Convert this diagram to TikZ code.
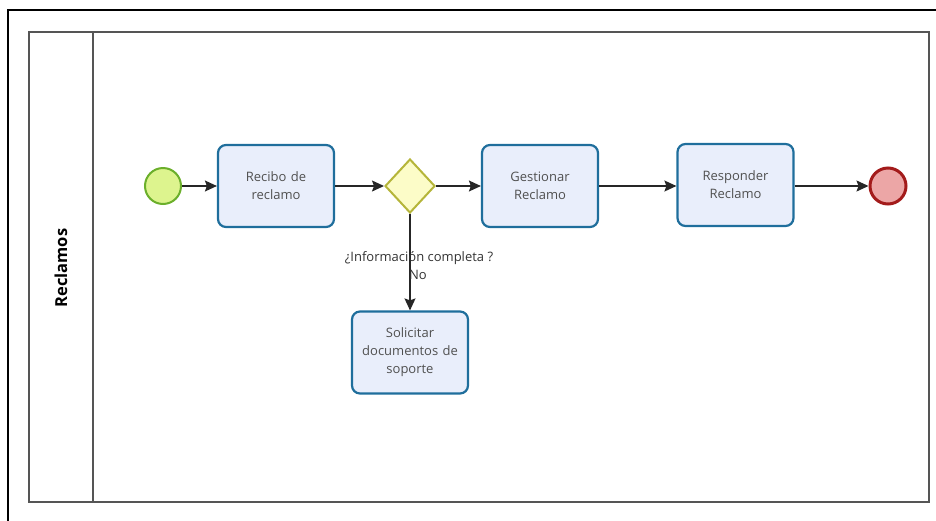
\documentclass[tikz,border=0pt]{standalone}
\usepackage{fontspec}
\setmainfont{Open Sans}
\usetikzlibrary{arrows.meta,shapes.geometric}

\definecolor{taskline}{HTML}{1F6E9C}
\definecolor{taskfill}{HTML}{E9EEFB}
\definecolor{gateline}{HTML}{B5B53A}
\definecolor{gatefill}{HTML}{FCFCC8}
\definecolor{startline}{HTML}{6BAF2B}
\definecolor{startfill}{HTML}{DDF48E}
\definecolor{endline}{HTML}{A31B1B}
\definecolor{endfill}{HTML}{ECA6A6}
\definecolor{flowline}{HTML}{262626}
\definecolor{tasktext}{HTML}{505050}
\definecolor{poolline}{HTML}{555555}

\tikzset{
  taskbox/.style={draw=taskline, fill=taskfill, line width=2.2pt, rounded corners=8pt,
    minimum width=116pt, minimum height=82pt, text width=104pt, align=center,
    inner sep=0pt, text=tasktext, font=\fontsize{13}{18}\selectfont},
  gateway/.style={diamond, draw=gateline, fill=gatefill, line width=2pt,
    minimum width=50pt, minimum height=54pt, inner sep=0pt},
  startevent/.style={circle, draw=startline, fill=startfill, line width=2pt,
    minimum size=36pt, inner sep=0pt},
  endevent/.style={circle, draw=endline, fill=endfill, line width=3pt,
    minimum size=36pt, inner sep=0pt},
  flow/.style={draw=flowline, line width=1.3pt,
    -{Stealth[length=12pt, width=11pt, inset=2pt]}},
  flowlabel/.style={text=black!80, font=\fontsize{13}{16}\selectfont, inner sep=0pt}
}

\begin{document}
\begin{tikzpicture}[x=1pt, y=-1pt]
  \useasboundingbox (0,0) rectangle (936,520);

  % outer frame (runs off the right and bottom edges)
  \draw[black, line width=2pt] (8,530) -- (8,10) -- (946,10);

  % pool and lane header
  \draw[poolline, line width=1.5pt] (29,32) rectangle (929,502);
  \draw[poolline, line width=1.5pt] (93,32) -- (93,502);
  \node[rotate=90, font=\bfseries\fontsize{16.5}{18}\selectfont] (lane) at (61,268) {Reclamos};

  % events, tasks and gateway
  \node[startevent] (start) at (163,186) {};
  \node[taskbox] (recibo) at (276,186) {Recibo de\\reclamo};
  \node[gateway] (gw) at (410,186) {};
  \node[taskbox] (gestionar) at (540,186) {Gestionar\\Reclamo};
  \node[taskbox] (responder) at (735.5,185) {Responder\\Reclamo};
  \node[endevent] (end) at (888,186) {};
  \node[taskbox] (solicitar) at (410,352.5) {Solicitar\\documentos de\\soporte};

  % sequence flows
  \draw[flow] (start) -- (recibo);
  \draw[flow] (recibo) -- (gw);
  \draw[flow] (gw) -- (gestionar);
  \draw[flow] (gestionar.east) -- (gestionar.east -| responder.west);
  \draw[flow] (responder.east |- end) -- (end);
  \draw[flow] (gw) -- (solicitar);

  % condition on the branch
  \node[flowlabel] (cond) at (419,258) {¿Información completa ?};
  \node[flowlabel] (no) at (418,275) {No};
\end{tikzpicture}
\end{document}
